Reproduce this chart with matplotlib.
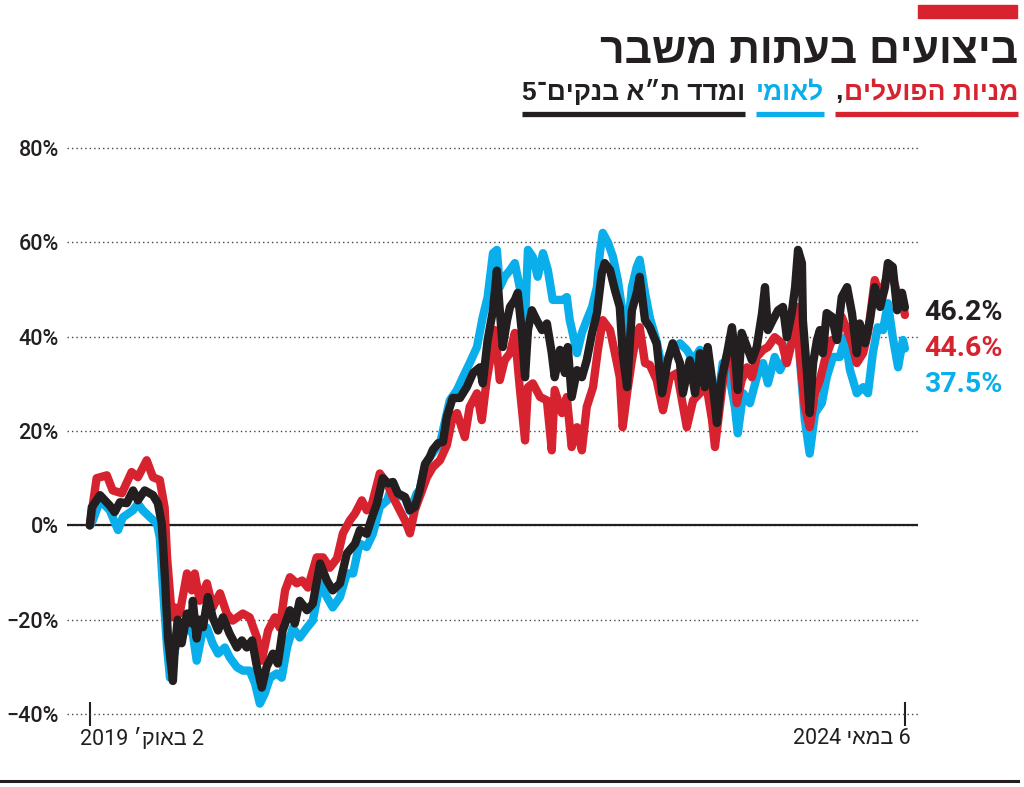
import re
import numpy as np
import matplotlib.pyplot as plt
import pandas as pd
from matplotlib import font_manager
from matplotlib.lines import Line2D
from matplotlib.patches import Rectangle

# performance since 2 Oct 2019, (days since start, % change)
black_pts = [(0, 0), (4, 3.8), (21, 6.4), (41, 4.2), (51, 2.8), (62, 4.9), (76, 4.7), (89, 7.4), (99, 5.3),
             (113, 7.4), (130, 6.4), (140, 4.7), (148, 0.4), (154, -10), (161, -24), (171, -33), (175, -26),
             (181, -20), (189, -25), (200, -18.7), (210, -20.8), (212, -16), (220, -24), (226, -20), (233, -21.6),
             (243, -15.2), (253, -19.5), (264, -22.3), (274, -19.5), (288, -23), (303, -25.9), (313, -24.4),
             (323, -25.9), (334, -24.4), (344, -30), (354, -34.4), (364, -30), (377, -27.2), (387, -29.3),
             (397, -22.3), (412, -18), (422, -20.8), (432, -16), (447, -18), (459, -16.6), (474, -8.1),
             (488, -11.7), (500, -13.8), (515, -12.3), (529, -6), (546, -3.9), (556, -1), (570, -1.8), (581, 1.7),
             (591, 4.6), (603, 10), (614, 8.9), (624, 9.2), (634, 6.8), (649, 6), (659, 3.2), (669, 3.9),
             (679, 7.4), (690, 13), (700, 14.5), (706, 16), (717, 17.4), (727, 17.7), (735, 23), (747, 27),
             (762, 27), (776, 29.3), (789, 32.3), (803, 33.5), (809, 30.1), (819, 39.3), (830, 45.6), (838, 54),
             (844, 45.6), (850, 37.8), (859, 43.5), (865, 46.3), (875, 47.8), (881, 49.3), (889, 41.4),
             (896, 31.4), (902, 41.4), (910, 45.6), (920, 43.5), (931, 41.4), (941, 42.8), (951, 36.5),
             (957, 31.4), (968, 37.2), (978, 32.3), (984, 37.8), (992, 27.2), (1003, 32.9), (1013, 31.4),
             (1023, 35), (1034, 40.8), (1044, 45), (1054, 53.5), (1060, 55.6), (1071, 54.1), (1081, 49.9),
             (1091, 46.3), (1097, 36.5), (1106, 29.3), (1116, 45.6), (1126, 49.3), (1132, 52.7), (1143, 43.5),
             (1153, 42), (1167, 38.5), (1178, 28), (1190, 35), (1200, 38.6), (1215, 34.4), (1221, 28), (1235, 35),
             (1246, 28), (1256, 36.5), (1266, 29.3), (1272, 37.8), (1283, 29.3), (1291, 21.7), (1301, 31.4),
             (1312, 36.5), (1322, 42), (1328, 36.5), (1334, 28.7), (1342, 40.8), (1353, 37.8), (1363, 35),
             (1373, 37.8), (1384, 45), (1390, 50.5), (1396, 41.4), (1406, 43.5), (1417, 45.6), (1427, 46.3),
             (1435, 39.9), (1445, 45), (1452, 50.5), (1458, 58.4), (1466, 55.6), (1468, 43.5), (1476, 32.9),
             (1482, 23.8), (1489, 34.4), (1497, 39.3), (1503, 41.4), (1509, 36.5), (1517, 45), (1528, 44.2),
             (1538, 39.3), (1548, 48.4), (1559, 50.5), (1569, 45), (1579, 36.5), (1585, 42.8), (1596, 38.6),
             (1606, 43.5), (1616, 50.5), (1627, 46.3), (1637, 50.5), (1643, 55.6), (1653, 54.8), (1662, 45.6),
             (1672, 49.3), (1678, 46.2)]

red_pts = [(0, 0), (14, 10), (35, 10.6), (47, 7.4), (66, 6.8), (86, 11.3), (99, 10.2), (117, 13.8), (130, 10.2),
           (144, 9.6), (154, 3.8), (159, -6.8), (169, -19.5), (175, -17.4), (185, -18.7), (200, -10.2),
           (210, -13.8), (216, -10.2), (226, -16), (241, -12.3), (253, -17.4), (268, -14.4), (282, -18.7),
           (294, -20.2), (315, -18.7), (329, -19.5), (344, -23.8), (354, -28.7), (367, -22.3), (381, -19.5),
           (391, -21.7), (402, -13.8), (412, -11), (426, -12.3), (437, -11.7), (449, -13.2), (467, -6.8),
           (480, -6.8), (494, -9), (509, -7), (521, -1.7), (535, 1), (546, 2.5), (560, 5.3), (570, 3.2),
           (581, 4.6), (597, 11), (612, 8.9), (624, 6), (638, 3.2), (649, 1), (659, -1.7), (669, 3.2), (679, 6),
           (694, 10.2), (706, 12.3), (721, 13.8), (735, 17), (747, 23), (756, 23.8), (772, 18.7), (782, 25.1),
           (797, 28), (807, 22.3), (817, 30.8), (828, 37.2), (834, 41.4), (844, 30.8), (854, 35), (865, 36.5),
           (875, 40.8), (885, 29.3), (896, 18), (902, 29.3), (912, 30.1), (927, 27.2), (941, 26.5), (951, 15.9),
           (957, 28.7), (972, 23.8), (982, 27.2), (992, 16.6), (1003, 20.8), (1013, 15.9), (1023, 25.1),
           (1036, 29.3), (1046, 37.2), (1056, 43.5), (1071, 41.4), (1081, 36.5), (1091, 31.4), (1097, 20.8),
           (1106, 28), (1116, 35), (1126, 40.8), (1132, 42), (1143, 34.4), (1153, 34), (1167, 30.8),
           (1180, 24.4), (1194, 31.4), (1209, 32.3), (1219, 26.5), (1229, 20.8), (1242, 26.5), (1256, 28),
           (1270, 29.3), (1281, 22.3), (1287, 16.6), (1297, 25.1), (1307, 33.5), (1322, 36.5), (1332, 25.9),
           (1342, 30.8), (1353, 33.5), (1363, 31.4), (1373, 35.7), (1386, 37.2), (1396, 37.8), (1410, 39.9),
           (1425, 38.6), (1435, 34.4), (1445, 38.6), (1456, 46.3), (1462, 35.7), (1472, 25.1), (1482, 20.8),
           (1493, 28), (1503, 30.8), (1513, 35), (1528, 39.3), (1538, 39.3), (1548, 44.2), (1559, 41.4),
           (1569, 38.6), (1579, 34.4), (1592, 36.5), (1602, 40.8), (1616, 52), (1627, 48.4), (1637, 51.4),
           (1647, 54.8), (1662, 49.3), (1674, 47.1), (1678, 44.6)]

blue_pts = [(0, 0), (6, 1), (21, 5.3), (41, 3.2), (58, -1), (68, 1.7), (89, 3.2), (99, 4.6), (109, 3.2),
            (124, 1.7), (138, 0.4), (144, -2.5), (150, -12.3), (159, -25.9), (165, -32.3), (175, -26.5),
            (185, -23), (200, -21.7), (212, -23), (220, -28.7), (231, -23), (241, -21.7), (253, -25.1),
            (264, -27.2), (278, -25.9), (288, -28), (303, -30.1), (315, -30.8), (329, -30.8), (340, -33.5),
            (350, -37.8), (360, -35.7), (371, -32.3), (385, -31.4), (395, -32.3), (406, -25.9), (418, -21.7),
            (432, -23.8), (447, -21.7), (459, -20.2), (474, -12.3), (488, -15.2), (500, -17.4), (515, -15.2),
            (529, -10.2), (542, -10.2), (552, -5.3), (556, -3.9), (570, -4.6), (583, -1.7), (597, 3.9),
            (612, 5.3), (624, 8.9), (634, 6.5), (649, 5.8), (659, 3), (673, 6.8), (679, 7.4), (690, 12.5),
            (700, 14.5), (721, 17.4), (741, 26.5), (756, 28.7), (768, 31.4), (782, 34.4), (797, 37.8),
            (809, 44.2), (819, 48.4), (830, 57.7), (838, 58.4), (844, 50.5), (854, 52.7), (865, 54.1),
            (875, 55.6), (885, 50.5), (896, 43.5), (902, 58.4), (912, 56.9), (922, 52.7), (933, 57.7),
            (943, 54.1), (953, 47.8), (964, 47.8), (974, 47.8), (982, 48.4), (988, 43.5), (994, 40.8),
            (1003, 36.5), (1013, 40.8), (1023, 43.5), (1034, 46.3), (1044, 50.5), (1050, 57.7), (1056, 62),
            (1067, 59.9), (1077, 56.9), (1087, 52), (1097, 45), (1106, 39.9), (1116, 50.5), (1126, 54.8),
            (1132, 56.3), (1143, 49.3), (1153, 44), (1167, 39), (1180, 32.3), (1194, 36.5), (1215, 38.6),
            (1229, 37.2), (1242, 35), (1256, 37.2), (1270, 32.9), (1281, 23.8), (1291, 25.1), (1303, 34.4),
            (1318, 30.8), (1328, 25.1), (1334, 19.5), (1345, 28), (1359, 25.9), (1373, 31.4), (1386, 34.4),
            (1396, 30.1), (1410, 35.7), (1421, 32.9), (1431, 35), (1441, 37.8), (1456, 43.5), (1462, 35),
            (1472, 22.3), (1482, 15.2), (1493, 23.8), (1507, 25.9), (1517, 31.4), (1530, 35.7), (1544, 35.7),
            (1555, 39.9), (1565, 32.9), (1579, 28), (1592, 29.3), (1602, 28), (1612, 36.5), (1622, 42),
            (1633, 41.4), (1643, 47.1), (1653, 39.9), (1664, 33.5), (1674, 39.3), (1678, 37.5)]

start = pd.Timestamp("2019-10-02")
end = pd.Timestamp("2024-05-06")
yticks = [-40, -20, 0, 20, 40, 60, 80]
end_labels = ["46.2%", "44.6%", "37.5%"]

RED = "#d7222f"
BLUE = "#0aaeea"
DARK = "#231f20"

names = {f.name for f in font_manager.fontManager.ttflist}
HEB = "Liberation Sans" if "Liberation Sans" in names else "DejaVu Sans"
NUM = "Roboto" if "Roboto" in names else "DejaVu Sans"


def heb(s):
    # matplotlib lays out left to right: flip the hebrew, keep number runs readable
    r = s[::-1]
    return re.sub(r"[0-9][0-9.,%]*", lambda m: m.group(0)[::-1], r)


W, H = 1024, 787
fig = plt.figure(figsize=(W / 100, H / 100), dpi=100)
ax = fig.add_axes([67 / W, 1 - 714 / H, (918 - 67) / W, (714 - 148) / H])

for pts, col, z in [(blue_pts, BLUE, 3), (red_pts, RED, 4), (black_pts, DARK, 5)]:
    d, v = zip(*pts)
    dates = start + pd.to_timedelta(np.array(d), unit="D")
    ax.plot(dates, v, color=col, lw=6, solid_joinstyle="round", solid_capstyle="round",
            zorder=z, clip_on=False)

ax.set_ylim(-40, 80)
ax.set_xlim(start - pd.Timedelta(days=47), start + pd.Timedelta(days=1705))
ax.set_yticks(yticks)
ax.set_yticklabels([("0%" if t == 0 else f"{t}%".replace("-", "\u2212")) for t in yticks],
                   fontfamily=NUM, fontsize=15.5, fontweight="medium", color=DARK)
ax.tick_params(axis="y", length=0, pad=6)
ax.yaxis.grid(True, color="#444444", lw=1, ls=(0, (1, 2.2)), zorder=1)
for gl in ax.get_ygridlines():
    gl.set_clip_on(False)
ax.axhline(0, color=DARK, lw=1.6, zorder=2)
ax.set_xticks([start, end])
ax.tick_params(axis="x", direction="inout", length=17, width=1.5, color=DARK, labelbottom=False)
for s in ax.spines.values():
    s.set_visible(False)
ax.set_axisbelow(True)

ax.annotate(heb("2 באוק׳ 2019"), xy=(start, -40), xytext=(-7, -10), textcoords="offset points",
            ha="left", va="top", fontsize=15.5, family=[NUM, HEB], color=DARK)
ax.annotate(heb("6 במאי 2024"), xy=(end, -40), xytext=(4, -10), textcoords="offset points",
            ha="right", va="top", fontsize=15.5, family=[NUM, HEB], color=DARK)

# end values
for lab, col, yy in zip(end_labels, [DARK, RED, BLUE], [312, 349, 385]):
    fig.text(924 / W, 1 - yy / H, lab, ha="left", va="center", fontsize=20.5, fontweight="bold",
             family=NUM, color=col)

# header
fig.patches.append(Rectangle((918 / W, 1 - 18 / H), 99 / W, 13 / H, transform=fig.transFigure,
                             color=RED, zorder=5))
fig.text(1018 / W, 1 - 52 / H, heb("ביצועים בעתות משבר"), ha="right", va="center", fontsize=30.8,
         fontweight="bold", family=HEB, color=DARK)

renderer = fig.canvas.get_renderer()
x_right = 1018
pieces = [("מניות הפועלים", RED, 1), (",", DARK, 11), ("לאומי", BLUE, 11), ("ומדד ת״א בנקים־5", DARK, 0)]
spans = []
for text, col, gap in pieces:
    t = fig.text(x_right / W, 1 - 92 / H, heb(text), ha="right", va="center", fontsize=19,
                 fontweight="bold", family=HEB, color=col)
    bb = t.get_window_extent(renderer)
    spans.append((bb.x0, bb.x1))
    x_right = bb.x0 - gap

uy = 1 - 114 / H
for (x0, x1), col in [((spans[1][0], spans[0][1]), RED), (spans[2], BLUE), (spans[3], DARK)]:
    fig.add_artist(Line2D([x0 / W, x1 / W], [uy, uy], lw=3.8, color=col, solid_capstyle="butt"))

fig.add_artist(Line2D([0, 1018 / W], [1 - 781 / H] * 2, lw=2.2, color=DARK))

plt.savefig("out.png", dpi=100)
